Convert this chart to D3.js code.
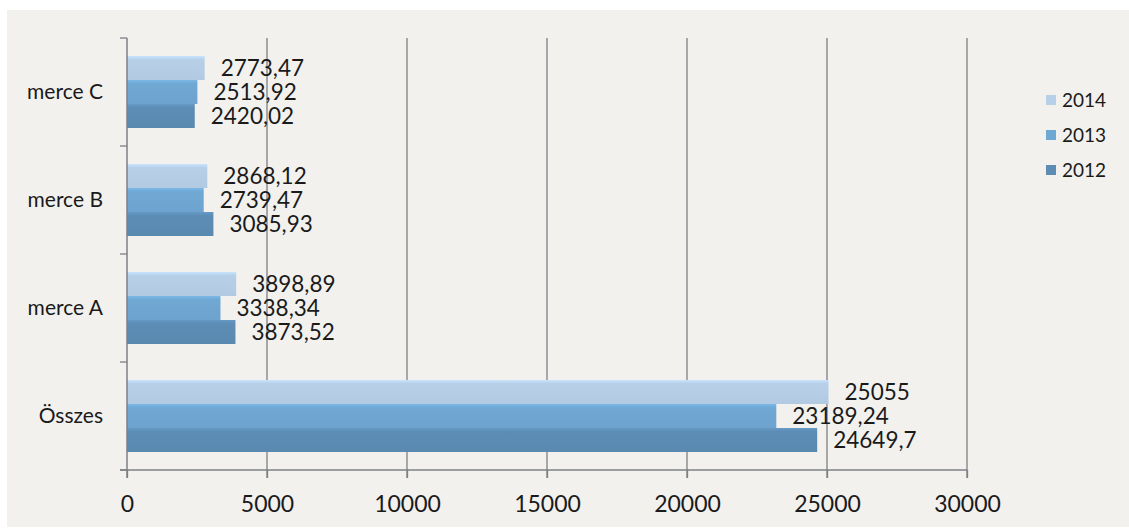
<!DOCTYPE html>
<html><head><meta charset="utf-8">
<script src="https://cdn.jsdelivr.net/npm/d3@7"></script>
<style>body{margin:0;background:#fff}svg{display:block}text{font-family:Lato,"Open Sans",sans-serif}</style>
</head><body><svg id="c" width="1129" height="530"></svg>
<script>
const categories = ["merce C","merce B","merce A","Összes"];
const seriesNames = ["2014","2013","2012"];
const v2014 = [2773.47, 2868.12, 3898.89, 25055];
const v2013 = [2513.92, 2739.47, 3338.34, 23189.24];
const v2012 = [2420.02, 3085.93, 3873.52, 24649.7];
const labels2014 = ["2773,47","2868,12","3898,89","25055"];
const labels2013 = ["2513,92","2739,47","3338,34","23189,24"];
const labels2012 = ["2420,02","3085,93","3873,52","24649,7"];
const xTicks = [0,5000,10000,15000,20000,25000,30000];
const colors = ["#b7d0e8","#70a8d4","#5d8db5"];

(function(){
const series = [
  {name: seriesNames[0], values: v2014, labels: labels2014},
  {name: seriesNames[1], values: v2013, labels: labels2013},
  {name: seriesNames[2], values: v2012, labels: labels2012}
];

const svg = d3.select("#c");
svg.append("rect").attr("x",7).attr("y",10).attr("width",1122).attr("height",517).attr("fill","#f2f1ee");

const pL = 127, pR = 967, pT = 38, pB = 470;
const x = d3.scaleLinear().domain([0,30000]).range([pL,pR]);
const y = d3.scaleBand().domain(categories).range([pT,pB]).paddingInner(1/3).paddingOuter(1/6);
const ys = d3.scaleBand().domain(seriesNames).range([0,y.bandwidth()]);

const defs = svg.append("defs");
colors.forEach((c,i)=>{
  const g = defs.append("linearGradient").attr("id","g"+i).attr("x1",0).attr("y1",0).attr("x2",0).attr("y2",1);
  const cc = d3.color(c);
  g.append("stop").attr("offset","0%").attr("stop-color",cc.brighter(0.25));
  g.append("stop").attr("offset","15%").attr("stop-color",c);
  g.append("stop").attr("offset","100%").attr("stop-color",cc.darker(0.08));
});

// gridlines
svg.append("g").selectAll("line").data(xTicks.slice(1)).join("line")
  .attr("x1",d=>x(d)).attr("x2",d=>x(d)).attr("y1",pT).attr("y2",pB+8)
  .attr("stroke","#7d7f84").attr("stroke-width",1.3);

// bars
series.forEach((s,i)=>{
  svg.append("g").selectAll("rect").data(categories).join("rect")
    .attr("x",x(0)).attr("y",(c)=>y(c)+ys(s.name))
    .attr("width",(c,j)=>x(s.values[j])-x(0))
    .attr("height",ys.bandwidth())
    .attr("fill","url(#g"+i+")");
});

// axes
const xAxis = d3.axisBottom(x).tickValues(xTicks).tickSize(8).tickFormat(d3.format("d"));
const gx = svg.append("g").attr("transform",`translate(0,${pB})`).call(xAxis);
gx.select(".domain").attr("d",`M${pL-7},0H${pR}`).attr("stroke","#7d7f84").attr("stroke-width",1.5);
gx.selectAll(".tick line").attr("stroke","#7d7f84").attr("stroke-width",1.3);
gx.selectAll(".tick text").attr("y",26).attr("font-size",23).attr("fill","#1a1a1a").attr("font-family","Lato");

const catTicks = [pT].concat(categories.map(c=>y(c)+y.bandwidth()+y.step()*(1/6)));
svg.append("line").attr("x1",pL).attr("x2",pL).attr("y1",pT).attr("y2",pB+8).attr("stroke","#7d7f84").attr("stroke-width",1.5);
svg.append("g").selectAll("line").data(catTicks).join("line")
  .attr("x1",pL-7).attr("x2",pL).attr("y1",d=>d).attr("y2",d=>d).attr("stroke","#7d7f84").attr("stroke-width",1.3);

svg.append("g").selectAll("text").data(categories).join("text")
  .attr("x",103).attr("y",c=>y(c)+y.bandwidth()/2).attr("dy","0.35em")
  .attr("text-anchor","end").attr("font-size",21).attr("fill","#1a1a1a").text(c=>c);

// data labels
series.forEach((s,i)=>{
  svg.append("g").selectAll("text").data(categories).join("text")
    .attr("x",(c,j)=>x(s.values[j])+16).attr("y",c=>y(c)+ys(s.name)+ys.bandwidth()/2).attr("dy","0.35em")
    .attr("font-size",22.5).attr("fill","#1a1a1a").text((c,j)=>s.labels[j]);
});

// legend
const lg = svg.append("g");
series.forEach((s,i)=>{
  const cy = 100 + i*35;
  lg.append("rect").attr("x",1046).attr("y",cy-5).attr("width",10).attr("height",10).attr("fill",colors[i]);
  lg.append("text").attr("x",1062).attr("y",cy).attr("dy","0.35em").attr("font-size",19).attr("fill","#1a1a1a").text(s.name);
});
})();
</script></body></html>
